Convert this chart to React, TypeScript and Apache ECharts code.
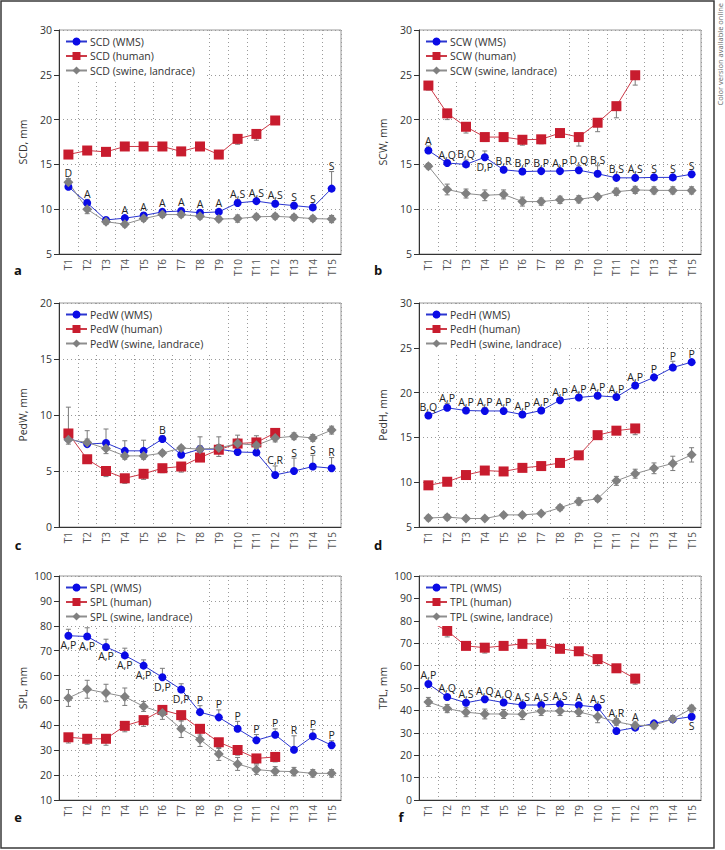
import React, { useEffect, useRef } from "react";
import * as echarts from "echarts";

const categories = ["T1","T2","T3","T4","T5","T6","T7","T8","T9","T10","T11","T12","T13","T14","T15"];

// a — SCD
const scdWms = [12.5, 10.7, 8.8, 9.0, 9.3, 9.7, 9.8, 9.6, 9.7, 10.7, 10.9, 10.6, 10.4, 10.2, 12.3];
const scdWmsErr = [0.9, 0.4, 0.2, 0.3, 0.3, 0.3, 0.3, 0.3, 0.3, 0.4, 0.3, 0.3, 0.3, 0.3, 1.9];
const scdHuman = [16.1, 16.55, 16.4, 17.0, 17.0, 17.0, 16.45, 17.0, 16.1, 17.85, 18.4, 19.9];
const scdHumanErr = [0.3, 0.3, 0.3, 0.3, 0.3, 0.4, 0.3, 0.3, 0.3, 0.6, 0.7, 0.3];
const scdSwine = [13.0, 10.0, 8.6, 8.33, 8.95, 9.4, 9.4, 9.2, 8.9, 8.95, 9.15, 9.2, 9.1, 8.95, 8.9];
const scdSwineErr = [0.4, 0.5, 0.3, 0.3, 0.3, 0.3, 0.3, 0.3, 0.3, 0.4, 0.3, 0.3, 0.3, 0.3, 0.4];
const scdLabels = ["D","A","","A","A","A","A","A","A","A,S","A,S","A,S","S","S","S"];
const scdBelow: number[] = [];

// b — SCW
const scwWms = [16.55, 15.15, 15.0, 15.8, 14.4, 14.2, 14.25, 14.25, 14.35, 13.95, 13.5, 13.5, 13.55, 13.55, 13.9];
const scwWmsErr = [0.5, 0.3, 0.5, 0.7, 0.3, 0.3, 0.3, 0.3, 0.5, 0.9, 0.3, 0.3, 0.3, 0.3, 0.3];
const scwHuman = [23.8, 20.7, 19.2, 18.05, 18.05, 17.75, 17.8, 18.5, 18.05, 19.65, 21.5, 24.95];
const scwHumanErr = [0.5, 0.7, 0.7, 0.5, 0.5, 0.6, 0.5, 0.5, 1.0, 1.0, 1.3, 1.1];
const scwSwine = [14.8, 12.2, 11.75, 11.55, 11.65, 10.85, 10.85, 11.05, 11.1, 11.4, 11.95, 12.15, 12.1, 12.1, 12.1];
const scwSwineErr = [0.3, 0.6, 0.5, 0.6, 0.5, 0.5, 0.4, 0.4, 0.4, 0.3, 0.4, 0.4, 0.4, 0.4, 0.4];
const scwLabels = ["A","A,Q","B,Q","D,P","B,R","B,P","B,P","A,P","D,Q","B,S","B,S","A,S","S","S","S"];
const scwBelow = [3];

// c — PedW
const pedwWms = [7.9, 7.4, 7.5, 6.8, 6.8, 7.85, 6.45, 6.95, 6.95, 6.7, 6.65, 4.65, 5.0, 5.4, 5.25];
const pedwWmsErr = [2.8, 1.2, 1.25, 0.9, 0.95, 0.3, 0.3, 1.1, 1.1, 1.5, 1.5, 0.8, 1.15, 1.0, 0.95];
const pedwHuman = [8.35, 6.05, 5.0, 4.35, 4.75, 5.25, 5.4, 6.2, 6.9, 7.45, 7.55, 8.4];
const pedwHumanErr = [0.4, 0.3, 0.5, 0.45, 0.5, 0.4, 0.5, 0.3, 0.6, 0.3, 0.3, 0.3];
const pedwSwine = [7.8, 7.55, 7.0, 6.35, 6.35, 6.6, 7.05, 6.95, 7.05, 7.45, 7.3, 7.95, 8.1, 7.95, 8.65];
const pedwSwineErr = [0.4, 0.3, 0.45, 0.3, 0.3, 0.2, 0.2, 0.3, 0.3, 0.4, 0.3, 0.35, 0.3, 0.3, 0.35];
const pedwLabels = ["","","","","","B","","","","","","C,R","S","S","R"];
const pedwBelow: number[] = [];

// d — PedH
const pedhWms = [17.45, 18.3, 18.0, 17.95, 17.95, 17.55, 18.0, 19.15, 19.45, 19.65, 19.5, 20.8, 21.7, 22.8, 23.4];
const pedhWmsErr = [0.3, 0.5, 0.3, 0.4, 0.3, 0.3, 0.3, 0.3, 0.3, 0.3, 0.3, 0.3, 0.3, 0.7, 0.3];
const pedhHuman = [9.65, 10.05, 10.8, 11.3, 11.2, 11.6, 11.8, 12.15, 13.0, 15.25, 15.75, 16.0];
const pedhHumanErr = [0.3, 0.3, 0.3, 0.3, 0.3, 0.3, 0.3, 0.3, 0.3, 0.3, 0.3, 0.7];
const pedhSwine = [6.0, 6.1, 5.95, 5.95, 6.35, 6.35, 6.5, 7.15, 7.85, 8.15, 10.15, 10.95, 11.55, 12.1, 13.05];
const pedhSwineErr = [0.3, 0.3, 0.2, 0.2, 0.2, 0.2, 0.2, 0.3, 0.4, 0.3, 0.5, 0.5, 0.6, 0.8, 0.8];
const pedhLabels = ["B,Q","A,P","A,P","A,P","A,P","A,P","A,P","A,P","A,P","A,P","A,P","A,P","P","P","P"];
const pedhBelow: number[] = [];

// e — SPL
const splWms = [76.0, 75.7, 71.5, 68.1, 64.0, 59.3, 54.4, 45.3, 43.2, 38.6, 34.0, 36.2, 30.2, 35.6, 32.0];
const splWmsErr = [2.6, 3.5, 3.1, 2.9, 2.3, 3.6, 2.3, 2.6, 3.0, 3.0, 2.3, 2.4, 5.6, 2.7, 1.8];
const splHuman = [35.2, 34.6, 34.6, 39.8, 42.1, 46.2, 44.1, 38.6, 33.2, 30.1, 26.7, 27.3];
const splHumanErr = [2.3, 2.2, 2.6, 2.4, 2.5, 2.0, 2.4, 2.5, 2.5, 2.1, 2.0, 2.0];
const splSwine = [51.0, 54.5, 53.0, 51.5, 47.6, 45.0, 38.6, 34.3, 28.5, 24.5, 22.2, 21.6, 21.4, 20.7, 20.7];
const splSwineErr = [3.4, 3.6, 3.5, 3.5, 2.0, 2.6, 3.5, 2.8, 2.6, 2.6, 1.9, 1.8, 1.7, 1.5, 1.5];
const splLabels = ["A,P","A,P","A,P","A,P","A,P","D,P","D,P","P","P","P","P","P","R","P","P"];
const splBelow = [0, 1, 2, 3, 4, 5, 6];
const splTicks = ["10","20","30","40","60","60","70","80","90","100"];

// f — TPL
const tplWms = [51.8, 46.0, 43.4, 45.0, 43.5, 42.4, 42.4, 42.8, 42.3, 41.4, 30.8, 32.3, 34.2, 36.0, 37.2];
const tplWmsErr = [0.8, 0.8, 0.8, 0.7, 0.7, 0.7, 0.7, 0.7, 0.8, 1.0, 0.6, 0.6, 0.6, 0.6, 0.6];
const tplHuman = [80.0, 75.5, 68.8, 68.0, 68.8, 69.7, 69.7, 67.5, 66.4, 62.9, 58.8, 54.2];
const tplHumanErr = [1.5, 2.7, 1.5, 2.4, 1.5, 1.5, 1.0, 1.0, 1.0, 2.9, 1.5, 2.5];
const tplSwine = [43.8, 40.8, 39.2, 38.4, 38.4, 38.3, 39.7, 39.7, 39.3, 37.3, 34.9, 33.3, 33.3, 36.2, 40.8];
const tplSwineErr = [2.0, 1.8, 2.0, 2.2, 2.0, 2.4, 2.0, 2.0, 2.0, 2.8, 1.5, 1.5, 1.5, 1.5, 1.5];
const tplLabels = ["A,P","A,Q","A,S","A,Q","A,Q","A,S","A,S","A,S","A","A,S","A,R","A","","","S"];
const tplBelow = [14];

const panels = [
  { prefix: "SCD", yName: "SCD, mm", min: 5, max: 30, interval: 5, ticks: null as string[] | null, wms: scdWms, wmsErr: scdWmsErr, human: scdHuman, humanErr: scdHumanErr, swine: scdSwine, swineErr: scdSwineErr, labels: scdLabels, below: scdBelow, letter: "a" },
  { prefix: "SCW", yName: "SCW, mm", min: 5, max: 30, interval: 5, ticks: null, wms: scwWms, wmsErr: scwWmsErr, human: scwHuman, humanErr: scwHumanErr, swine: scwSwine, swineErr: scwSwineErr, labels: scwLabels, below: scwBelow, letter: "b" },
  { prefix: "PedW", yName: "PedW, mm", min: 0, max: 20, interval: 5, ticks: null, wms: pedwWms, wmsErr: pedwWmsErr, human: pedwHuman, humanErr: pedwHumanErr, swine: pedwSwine, swineErr: pedwSwineErr, labels: pedwLabels, below: pedwBelow, letter: "c" },
  { prefix: "PedH", yName: "PedH, mm", min: 5, max: 30, interval: 5, ticks: null, wms: pedhWms, wmsErr: pedhWmsErr, human: pedhHuman, humanErr: pedhHumanErr, swine: pedhSwine, swineErr: pedhSwineErr, labels: pedhLabels, below: pedhBelow, letter: "d" },
  { prefix: "SPL", yName: "SPL, mm", min: 10, max: 100, interval: 10, ticks: splTicks, wms: splWms, wmsErr: splWmsErr, human: splHuman, humanErr: splHumanErr, swine: splSwine, swineErr: splSwineErr, labels: splLabels, below: splBelow, letter: "e" },
  { prefix: "TPL", yName: "TPL, mm", min: 0, max: 100, interval: 10, ticks: null, wms: tplWms, wmsErr: tplWmsErr, human: tplHuman, humanErr: tplHumanErr, swine: tplSwine, swineErr: tplSwineErr, labels: tplLabels, below: tplBelow, letter: "f" },
];

const FONT = "'Open Sans', 'Noto Sans', sans-serif";
const GRID_W = 282;
const GRID_H = 224;
const gridPos = [
  [59, 30], [419, 30],
  [59, 303], [419, 303],
  [59, 576], [419, 576],
];
const letterPos = [
  [18, 270], [378, 270],
  [18, 545], [378, 545],
  [18, 817], [401, 817],
];

const BLUE = "#0a0ae6";
const BLUE_LINE = "#2a35d0";
const RED = "#c81c2e";
const RED_LINE = "#cc3a48";
const GREY = "#808080";
const GREY_LINE = "#8e8e8e";
const ERR = "#7a7a7a";

function errSeries(k: number, values: number[], errs: number[], mode: "up" | "down" | "both") {
  const data = values.map((v, i) => {
    const e = errs[i];
    const lo = mode === "up" ? v : v - e;
    const hi = mode === "down" ? v : v + e;
    return [i, v, lo, hi];
  });
  return {
    type: "custom",
    xAxisIndex: k,
    yAxisIndex: k,
    z: 1,
    silent: true,
    encode: { x: 0, y: 1 },
    data,
    renderItem: (_params: any, api: any) => {
      const x = api.value(0);
      const v = api.value(1);
      const lo = api.value(2);
      const hi = api.value(3);
      const pLo = api.coord([x, lo]);
      const pHi = api.coord([x, hi]);
      const cap = 2.5;
      const style = { stroke: ERR, lineWidth: 1 };
      const children: any[] = [
        { type: "line", shape: { x1: pLo[0], y1: pLo[1], x2: pHi[0], y2: pHi[1] }, style },
      ];
      if (hi > v) children.push({ type: "line", shape: { x1: pHi[0] - cap, y1: pHi[1], x2: pHi[0] + cap, y2: pHi[1] }, style });
      if (lo < v) children.push({ type: "line", shape: { x1: pLo[0] - cap, y1: pLo[1], x2: pLo[0] + cap, y2: pLo[1] }, style });
      return { type: "group", children };
    },
  };
}

function labelSeries(k: number, p: (typeof panels)[number]) {
  const data = p.wms.map((v, i) => [i, v]);
  return {
    type: "custom",
    xAxisIndex: k,
    yAxisIndex: k,
    z: 5,
    silent: true,
    encode: { x: 0, y: 1 },
    data,
    renderItem: (_params: any, api: any) => {
      const i = api.value(0);
      const text = p.labels[i];
      if (!text) return null;
      const v = p.wms[i];
      const pt = api.coord([i, v]);
      if (p.below.indexOf(i) >= 0) {
        return {
          type: "text",
          x: pt[0],
          y: pt[1] + 4,
          style: { text, fontSize: 10.5, fontFamily: FONT, fill: "#222", align: "center", verticalAlign: "top" },
        };
      }
      let top = Math.min(api.coord([i, v + p.wmsErr[i]])[1], pt[1] - 3);
      const others: [number | undefined, number][] = [
        [p.human[i], 0],
        [p.swine[i], p.swineErr[i]],
      ];
      others.forEach(([ov, oe]) => {
        if (ov === undefined) return;
        const oy = api.coord([i, ov])[1];
        const d = pt[1] - oy;
        if (d > 0 && d < 14) {
          top = Math.min(top, api.coord([i, ov + oe])[1], oy - 3);
        }
      });
      return {
        type: "text",
        x: pt[0],
        y: top,
        style: { text, fontSize: 10.5, fontFamily: FONT, fill: "#222", align: "center", verticalAlign: "bottom" },
      };
    },
  };
}

function buildOption() {
  const grid: any[] = [];
  const xAxis: any[] = [];
  const yAxis: any[] = [];
  const series: any[] = [];
  const legend: any[] = [];
  const graphic: any[] = [];

  panels.forEach((p, k) => {
    const [gl, gt] = gridPos[k];
    grid.push({ left: gl, top: gt, width: GRID_W, height: GRID_H, show: true, borderColor: "#9a9a9a", borderWidth: 1, containLabel: false });
    const splitStyle = { color: "#9a9a9a", width: 1, type: [1, 3] };
    xAxis.push({
      type: "category",
      gridIndex: k,
      data: categories,
      boundaryGap: true,
      axisLine: { show: true, lineStyle: { color: "#333", width: 1 } },
      axisTick: { show: false },
      axisLabel: { rotate: 90, interval: 0, fontSize: 10, color: "#555", margin: 5, fontFamily: FONT },
      splitLine: { show: true, interval: 0, lineStyle: splitStyle },
    });
    yAxis.push({
      type: "value",
      gridIndex: k,
      min: p.min,
      max: p.max,
      interval: p.interval,
      name: p.yName,
      nameLocation: "middle",
      nameGap: 31,
      nameTextStyle: { fontSize: 10.5, color: "#333", fontFamily: FONT },
      axisLine: { show: true, lineStyle: { color: "#333", width: 1 } },
      axisTick: { show: true, length: 5, lineStyle: { color: "#333" } },
      axisLabel: {
        fontSize: 10.5,
        color: "#333",
        margin: 7,
        fontFamily: FONT,
        formatter: (val: number) => {
          if (p.ticks) return p.ticks[Math.round((val - p.min) / p.interval)] ?? String(val);
          return String(val);
        },
      },
      splitLine: { show: true, lineStyle: splitStyle },
    });

    const nW = `${p.prefix} (WMS)`;
    const nH = `${p.prefix} (human)`;
    const nS = `${p.prefix} (swine, landrace)`;

    series.push({
      type: "line", name: nW, xAxisIndex: k, yAxisIndex: k, data: p.wms,
      symbol: "circle", symbolSize: 8, z: 3,
      itemStyle: { color: BLUE }, lineStyle: { color: BLUE_LINE, width: 1 },
    });
    series.push({
      type: "line", name: nH, xAxisIndex: k, yAxisIndex: k, data: p.human,
      symbol: "rect", symbolSize: 10, z: 3,
      itemStyle: { color: RED }, lineStyle: { color: RED_LINE, width: 1 },
    });
    series.push({
      type: "line", name: nS, xAxisIndex: k, yAxisIndex: k, data: p.swine,
      symbol: "diamond", symbolSize: 10, z: 3,
      itemStyle: { color: GREY }, lineStyle: { color: GREY_LINE, width: 1 },
    });
    series.push(errSeries(k, p.wms, p.wmsErr, "up"));
    series.push(errSeries(k, p.human, p.humanErr, "down"));
    series.push(errSeries(k, p.swine, p.swineErr, "both"));
    series.push(labelSeries(k, p));

    legend.push({
      data: [nW, nH, nS],
      orient: "vertical",
      left: gl + 1,
      top: gt + 2,
      itemWidth: 21,
      itemHeight: 10,
      itemGap: 3.5,
      padding: [4, 10, 4, 5],
      backgroundColor: "#ffffff",
      selectedMode: false,
      z: 4,
      textStyle: { fontSize: 10.5, color: "#333", fontFamily: FONT, padding: [0, 0, 0, -2] },
    });

    graphic.push({
      type: "text",
      x: letterPos[k][0],
      y: letterPos[k][1],
      style: { text: p.letter, fontSize: 13, fontWeight: "bold", fontFamily: FONT, fill: "#111", align: "center", verticalAlign: "middle" },
    });
  });

  graphic.push({
    type: "rect",
    shape: { x: 1, y: 1, width: 713, height: 847 },
    style: { fill: "none", stroke: "#3a3a3a", lineWidth: 1.5 },
    silent: true,
  });
  graphic.push({
    type: "text",
    x: 720,
    y: 3,
    rotation: Math.PI / 2,
    style: { text: "Color version available online", fontSize: 7.5, fontFamily: FONT, fill: "#666", align: "right", verticalAlign: "middle" },
  });

  return {
    animation: false,
    backgroundColor: "#ffffff",
    textStyle: { fontFamily: FONT },
    grid,
    xAxis,
    yAxis,
    legend,
    series,
    graphic,
  };
}

export default function App() {
  const ref = useRef<HTMLDivElement>(null);
  useEffect(() => {
    if (!ref.current) return;
    const chart = echarts.init(ref.current, null, { renderer: "svg" });
    chart.setOption(buildOption() as any);
    return () => chart.dispose();
  }, []);
  return (
    <div
      ref={ref}
      style={{ position: "absolute", left: 0, top: 0, width: 725, height: 850, background: "#fff" }}
    />
  );
}
